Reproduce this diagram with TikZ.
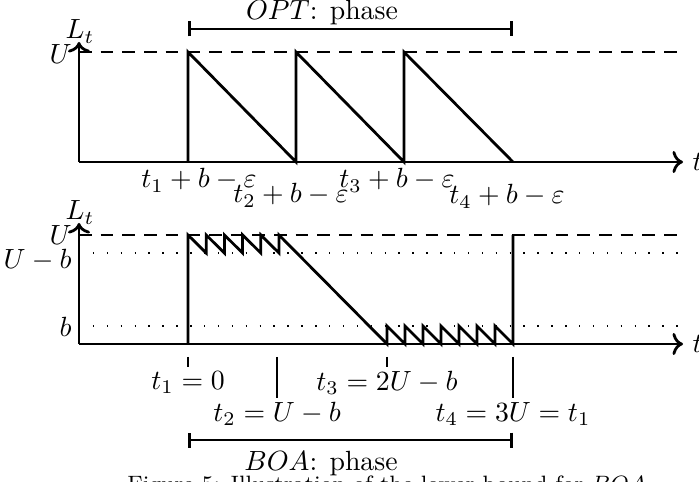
\documentclass[tikz,border=0pt]{standalone}
\usetikzlibrary{arrows.meta}
\begin{document}
\begin{tikzpicture}[x=0.36pt,y=-0.36pt,line width=1pt,
  every node/.style={inner sep=1pt},
  sidelab/.style={left,inner sep=2.2pt},
  upper/.style={dash pattern=on 4.5pt off 3.3pt},
  level/.style={line width=0.5pt,dash pattern=on 0.5pt off 4.5pt},
  phase/.style={{Bar[width=5.4pt]}-{Bar[width=5.4pt]}}]
\clip (0,0) rectangle (699,482);
\draw[->] (79,162) -- (79,42);
\node[anchor=base] (Ltop) at (80,39) {$L_t$};
\draw[->] (79,162) -- (683,162) node[right,inner sep=3pt] (ttop) {$t$};
\draw[upper] (79,52) -- (683,52);
\node[sidelab] (Utop) at (79,54) {$U$};
\draw (188,162) -- (188,52) -- (296,162) -- (296,52) -- (404,162) -- (404,52) -- (513,162);
\draw[phase] (188,29) -- (513,29);
\node[anchor=base] (opt) at (322,20) {$OPT$: phase};
\node[anchor=base] (a1) at (199,188) {$t_1+b-\varepsilon$};
\node[anchor=base] (a2) at (291,203) {$t_2+b-\varepsilon$};
\node[anchor=base] (a3) at (397,188) {$t_3+b-\varepsilon$};
\node[anchor=base] (a4) at (507,204) {$t_4+b-\varepsilon$};
\draw[->] (79,344) -- (79,223);
\node[anchor=base] (Lbot) at (80,220) {$L_t$};
\draw[->] (79,344) -- (683,344) node[right,inner sep=3pt] (tbot) {$t$};
\draw[upper] (79,235) -- (683,235);
\draw[level] (79,253) -- (683,253);
\draw[level] (79,326) -- (683,326);
\node[sidelab] (Ubot) at (79,235) {$U$};
\node[sidelab] (Umb) at (79,260) {$U-b$};
\node[sidelab] (bbot) at (79,327) {$b$};
\draw (188,344) -- (188,235)
  \foreach \k in {1,...,5} { -- ({188+18.2*\k},253) -- ({188+18.2*\k},235) }
  -- (387,344)
  \foreach \k in {1,...,7} { -- ({387+18*(\k-1)},326) -- ({387+18*\k},344) }
  -- (513,235);
\node[below] (b1) at (188,367) {$t_1=0$};
\node[below] (b2) at (277,398) {$t_2=U-b$};
\node[below] (b3) at (387,367) {$t_3=2U-b$};
\node[below] (b4) at (513,398) {$t_4=3U=t_1$};
\draw (188,357) -- (b1.north);
\draw (277,357) -- (b2.north);
\draw (387,357) -- (b3.north);
\draw (513,357) -- (b4.north);
\draw[phase] (188,440) -- (513,440);
\node[anchor=base] (boa) at (321,470) {$BOA$: phase};
\node[anchor=base] (capt) at (387,491) {\footnotesize Figure 5: Illustration of the lower bound for $BOA$};
\end{tikzpicture}
\end{document}
